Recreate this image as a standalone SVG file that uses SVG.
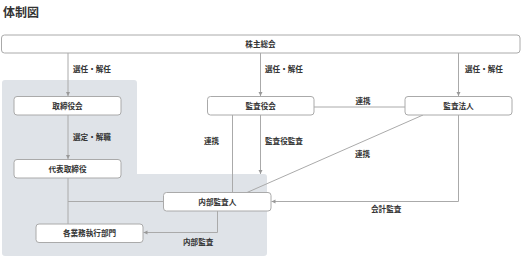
<svg xmlns="http://www.w3.org/2000/svg" width="522" height="259" viewBox="0 0 522 259">
<defs>
<style>
text{font-family:"Noto Sans CJK JP","Noto Sans",sans-serif;font-weight:bold;fill:#333;}
.t{font-size:7.6px;}
.c{text-anchor:middle;}
.box{fill:#fff;stroke:#aaa;stroke-width:1;}
.ln{fill:none;stroke:#aaa;stroke-width:1;}
</style>
<marker id="ah" markerUnits="userSpaceOnUse" markerWidth="6" markerHeight="6" viewBox="0 0 6 6" refX="5" refY="3" orient="auto">
<path d="M1,1 L5,3 L1,5 Z" fill="#999"/>
</marker>
</defs>
<rect width="522" height="259" fill="#fff"/>
<text x="3" y="17" style="font-size:12px">体制図</text>
<path id="area" d="M5,80 H134 Q137,80 137,83 V174 H264 Q267,174 267,177 V253 Q267,256 264,256 H5 Q2,256 2,253 V83 Q2,80 5,80 Z" fill="#dfe3e8"/>
<g id="connectors">
<line class="ln" x1="68" y1="53" x2="68" y2="96" marker-end="url(#ah)"/>
<line class="ln" x1="260.5" y1="53" x2="260.5" y2="96" marker-end="url(#ah)"/>
<line class="ln" x1="458.5" y1="53" x2="458.5" y2="96" marker-end="url(#ah)"/>
<line class="ln" x1="68" y1="115" x2="68" y2="159" marker-end="url(#ah)"/>
<line class="ln" x1="68" y1="178" x2="68" y2="224"/>
<line class="ln" x1="68" y1="201.5" x2="163.5" y2="201.5"/>
<line class="ln" x1="314" y1="107" x2="405" y2="107"/>
<line class="ln" x1="232.5" y1="115" x2="232.5" y2="192.5"/>
<line class="ln" x1="260.5" y1="115" x2="260.5" y2="174" marker-end="url(#ah)"/>
<line class="ln" x1="423" y1="115" x2="247" y2="192.5"/>
<polyline class="ln" points="458.5,115 458.5,201.5 271.5,201.5" marker-end="url(#ah)"/>
<polyline class="ln" points="217.5,211 217.5,232.5 143.5,232.5" marker-end="url(#ah)"/>
<text class="t" x="73" y="72">選任・解任</text>
<text class="t" x="265" y="72">選任・解任</text>
<text class="t" x="465" y="72">選任・解任</text>
<text class="t c" x="363" y="104">連携</text>
<text class="t" x="73" y="140">選定・解職</text>
<text class="t" x="204" y="144">連携</text>
<text class="t" x="265" y="144">監査役監査</text>
<text class="t" x="355" y="157">連携</text>
<text class="t" x="371" y="212">会計監査</text>
<text class="t" x="183" y="245">内部監査</text>
</g>
<g id="n-shareholders"><rect class="box" x="1.5" y="35" width="518.5" height="18" rx="3"/><text class="t c" x="260.5" y="46.8">株主総会</text></g>
<g id="n-board"><rect class="box" x="14" y="96.5" width="107" height="18.5" rx="3"/><text class="t c" x="67.5" y="108.5">取締役会</text></g>
<g id="n-auditboard"><rect class="box" x="207.5" y="96.5" width="106.5" height="18.5" rx="3"/><text class="t c" x="260.7" y="108.5">監査役会</text></g>
<g id="n-auditor"><rect class="box" x="405" y="96.5" width="107" height="18.5" rx="3"/><text class="t c" x="458.5" y="108.5">監査法人</text></g>
<g id="n-ceo"><rect class="box" x="14" y="159.5" width="107" height="18.5" rx="3"/><text class="t c" x="67.5" y="171.5">代表取締役</text></g>
<g id="n-internal"><rect class="box" x="163.5" y="192.5" width="107.5" height="18.5" rx="3"/><text class="t c" x="217.3" y="204.5">内部監査人</text></g>
<g id="n-divisions"><rect class="box" x="36" y="224" width="107" height="18.5" rx="3"/><text class="t c" x="89.5" y="236">各業務執行部門</text></g>
</svg>
